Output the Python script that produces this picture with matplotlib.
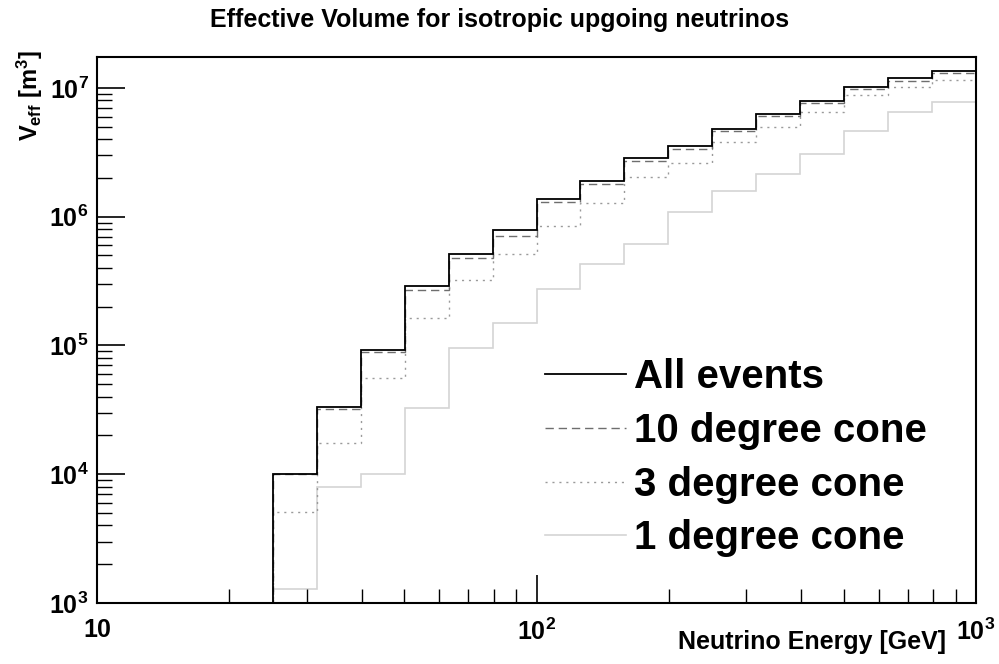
import numpy as np
import matplotlib.pyplot as plt
from matplotlib.lines import Line2D
from matplotlib.ticker import FixedLocator, FixedFormatter, LogLocator, NullFormatter

plt.rcParams["font.family"] = ["Liberation Sans", "DejaVu Sans"]
plt.rcParams["font.weight"] = "bold"
plt.rcParams["mathtext.fontset"] = "custom"
plt.rcParams["mathtext.rm"] = "Liberation Sans:bold"
plt.rcParams["mathtext.bf"] = "Liberation Sans:bold"
plt.rcParams["mathtext.it"] = "Liberation Sans:bold"

# binning: 20 bins, equal in log10(E) between 10 and 1000 GeV
log_edges = np.linspace(1.0, 3.0, 21)
edges = 10 ** log_edges

# effective volume per bin [m^3]
all_events = [0, 0, 0, 0,
              1.0e4, 3.3e4, 9.2e4, 2.9e5, 5.1e5, 7.9e5, 1.37e6, 1.9e6,
              2.84e6, 3.54e6, 4.78e6, 6.25e6, 7.96e6, 1.02e7, 1.2e7, 1.36e7]
cone10 = [0, 0, 0, 0,
          1.0e4, 3.2e4, 8.85e4, 2.7e5, 4.75e5, 7.1e5, 1.3e6, 1.8e6,
          2.71e6, 3.36e6, 4.63e6, 6.07e6, 7.64e6, 9.9e6, 1.14e7, 1.3e7]
cone3 = [0, 0, 0, 0,
         5.06e3, 1.75e4, 5.6e4, 1.64e5, 3.2e5, 5.1e5, 8.5e5, 1.27e6,
         2.05e6, 2.63e6, 3.79e6, 4.98e6, 6.55e6, 8.83e6, 1.02e7, 1.15e7]
cone1 = [0, 0, 0, 0,
         1.28e3, 8.0e3, 1.0e4, 3.29e4, 9.5e4, 1.49e5, 2.75e5, 4.27e5,
         6.18e5, 1.09e6, 1.59e6, 2.14e6, 3.07e6, 4.63e6, 6.51e6, 7.78e6]

labels = ["All events", "10 degree cone", "3 degree cone", "1 degree cone"]

ymin, ymax = 1e3, 10 ** 7.241

fig = plt.figure(figsize=(9.99, 6.64), dpi=100)
ax = fig.add_axes([0.0971, 0.0919, 0.8799, 0.8223])
ax.set_xscale("log")
ax.set_yscale("log")

styles = [
    dict(color="black", lw=1.3, linestyle="-"),
    dict(color="#6e6e6e", lw=1.0, linestyle=(0, (6, 3.5))),
    dict(color="#9a9a9a", lw=1.0, linestyle=(0, (1.5, 3.5))),
    dict(color="#d4d4d4", lw=1.2, linestyle="-"),
]

series = [all_events, cone10, cone3, cone1]
# draw faint ones first so black ends on top
for vals, st in list(zip(series, styles))[::-1]:
    v = np.asarray(vals, dtype=float)
    v = np.where(v > 0, v, ymin)
    ax.stairs(v, edges, baseline=ymin, fill=False,
              edgecolor=st["color"], linewidth=st["lw"], linestyle=st["linestyle"])

ax.set_xlim(10, 1000)
ax.set_ylim(ymin, ymax)

# ticks in ROOT style
ax.xaxis.set_major_locator(FixedLocator([10, 100, 1000]))
ax.xaxis.set_major_formatter(FixedFormatter(["10", r"$10^{2}$", r"$10^{3}$"]))
ax.xaxis.set_minor_locator(LogLocator(base=10, subs=np.arange(2, 10), numticks=20))
ax.xaxis.set_minor_formatter(NullFormatter())
ax.yaxis.set_major_locator(FixedLocator([1e3, 1e4, 1e5, 1e6, 1e7]))
ax.yaxis.set_major_formatter(FixedFormatter([r"$10^{3}$", r"$10^{4}$", r"$10^{5}$",
                                             r"$10^{6}$", r"$10^{7}$"]))
ax.yaxis.set_minor_locator(LogLocator(base=10, subs=np.arange(2, 10), numticks=20))
ax.yaxis.set_minor_formatter(NullFormatter())

ax.tick_params(axis="x", which="major", direction="in", length=20, width=1.2,
               labelsize=18, pad=11, top=False)
ax.tick_params(axis="x", which="minor", direction="in", length=10, width=1.0, top=False)
ax.tick_params(axis="y", which="major", direction="in", length=20, width=1.2,
               labelsize=18, pad=6, right=False)
ax.tick_params(axis="y", which="minor", direction="in", length=11, width=1.0, right=False)
for sp in ax.spines.values():
    sp.set_linewidth(1.5)

fig.text(0.5, 1 - 20 / 664, "Effective Volume for isotropic upgoing neutrinos",
         fontsize=18, fontweight="bold", ha="center", va="center")
ax.set_xlabel("Neutrino Energy [GeV]", fontsize=18, fontweight="bold", loc="right")
ax.xaxis.set_label_coords(0.966, -0.072)
ax.xaxis.label.set_verticalalignment("center")
ax.set_ylabel(r"$V_{eff}$ [m$^{3}$]", fontsize=17, fontweight="bold", loc="top")
ax.yaxis.set_label_coords(-0.059, 1.013)

handles = [Line2D([], [], **st) for st in styles]
ax.legend(handles, labels, loc="upper left", bbox_to_anchor=(0.487, 0.485),
          frameon=False, prop=dict(size=29, weight="bold"),
          handlelength=2.0, handletextpad=0.2, labelspacing=0.39, borderpad=0)

fig.savefig("out.png", dpi=100)
